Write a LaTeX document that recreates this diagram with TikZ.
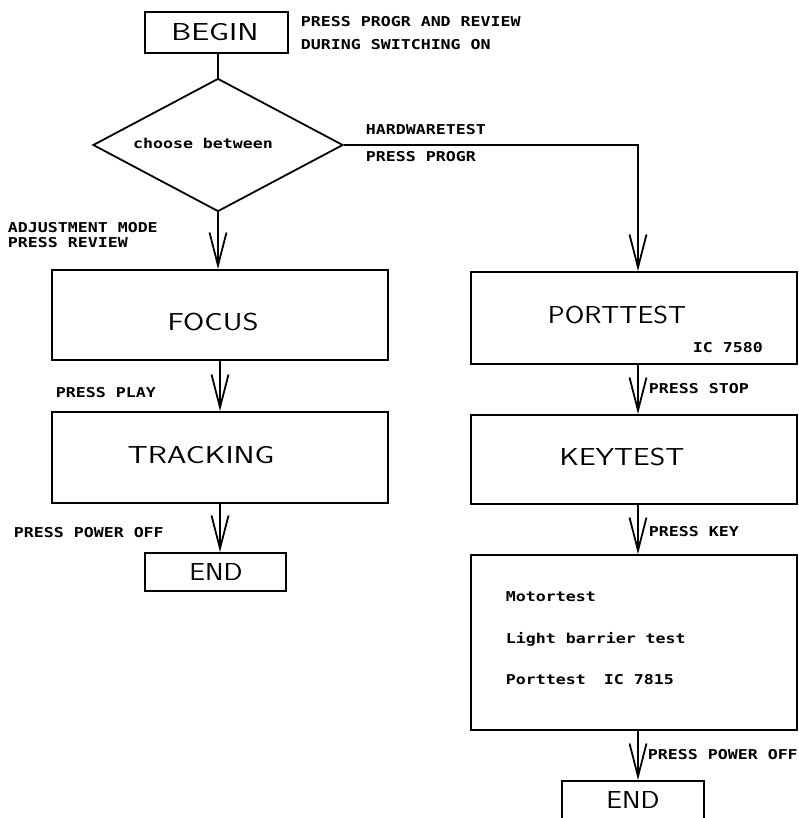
\documentclass[tikz,border=0pt]{standalone}
\usepackage{fontspec}
\usepackage{graphicx}
\usetikzlibrary{arrows.meta,shapes.geometric}
\newfontfamily\plotmono[FakeStretch=1.22]{DejaVu Sans Mono}
\newcommand\bigt[2]{\scalebox{#1}[1]{\sffamily\fontsize{24.5}{28}\selectfont #2}}
\begin{document}
\begin{tikzpicture}[x=1pt,y=-1pt,line width=1.8pt,
  box/.style={draw,rectangle,inner sep=0pt,line width=1.8pt},
  bigl/.style={inner sep=0pt,text height=17pt,text depth=0pt},
  lbl/.style={inner sep=0pt,anchor=west,text height=9.8pt,text depth=0pt,
              font=\plotmono\bfseries\fontsize{13.6}{16}\selectfont},
  arr/.style={-{Straight Barb[length=33pt,width=17pt]}}]
\useasboundingbox (0,0) rectangle (798,818);
\fill[white] (0,0) rectangle (798,818);

% ---- left column ----
\node[box,minimum width=143,minimum height=41] (begin) at (216.5,32.5) {};
\node[bigl] (beginT) at (215,32) {\bigt{1.3}{BEGIN}};
\node[lbl] (note1) at (300,22) {PRESS PROGR AND REVIEW};
\node[lbl] (note2) at (300,45) {DURING SWITCHING ON};

\node[draw,diamond,shape aspect=1.9,minimum width=250,minimum height=133,inner sep=0pt] (dia) at (218,145) {};
\node[lbl,anchor=center] (choose) at (203,144) {choose between};

\node[lbl] (hw1) at (365,130) {HARDWARETEST};
\node[lbl] (hw2) at (365,157) {PRESS PROGR};

\node[lbl] (adj1) at (7,228) {ADJUSTMENT MODE};
\node[lbl] (adj2) at (7,243) {PRESS REVIEW};

\node[box,minimum width=336,minimum height=90] (focus) at (220,315) {};
\node[bigl] (focusT) at (213,322) {\bigt{1.25}{FOCUS}};

\node[lbl] (play) at (55,393) {PRESS PLAY};

\node[box,minimum width=336,minimum height=91] (track) at (220,457.5) {};
\node[bigl] (trackT) at (201,455) {\bigt{1.29}{TRACKING}};

\node[lbl] (poffL) at (13,533) {PRESS POWER OFF};

\node[box,minimum width=141,minimum height=38] (endL) at (215.5,572) {};
\node[bigl] (endLT) at (216,572) {\bigt{1.14}{END}};

% ---- right column ----
\coordinate (rc) at (638,145);

\node[box,minimum width=326,minimum height=92] (port) at (634,318) {};
\node[bigl] (portT) at (617,315) {\bigt{1.15}{PORTTEST}};
\node[lbl] (ic1) at (692,348) {IC 7580};

\node[lbl] (stop) at (648,389) {PRESS STOP};

\node[box,minimum width=326,minimum height=89] (key) at (634,459.5) {};
\node[bigl] (keyT) at (622,457) {\bigt{1.21}{KEYTEST}};

\node[lbl] (pkey) at (648,532) {PRESS KEY};

\node[box,minimum width=326,minimum height=175] (motor) at (634,642.5) {};
\node[lbl] (m1) at (505,597) {Motortest};
\node[lbl] (m2) at (505,639) {Light barrier test};
\node[lbl] (m3) at (505,680) {Porttest};
\node[lbl] (m4) at (603,680) {IC 7815};

\node[lbl] (poffR) at (647,755) {PRESS POWER OFF};

\node[box,minimum width=142,minimum height=40] (endR) at (633,801) {};
\node[bigl] (endRT) at (633,800) {\bigt{1.14}{END}};

% ---- connectors ----
\draw (begin.south -| dia.north) -- (dia.north);
\draw[arr] (dia.south) -- (dia.south |- focus.north);
\draw[arr] (focus.south) -- (focus.south |- track.north);
\draw[arr] (track.south) -- (track.south |- endL.north);

\draw[arr] (dia.east) -- (rc) -- (rc |- port.north);
\draw[arr] (rc |- port.south) -- (rc |- key.north);
\draw[arr] (rc |- key.south) -- (rc |- motor.north);
\draw[arr] (rc |- motor.south) -- (rc |- endR.north);
\end{tikzpicture}
\end{document}
